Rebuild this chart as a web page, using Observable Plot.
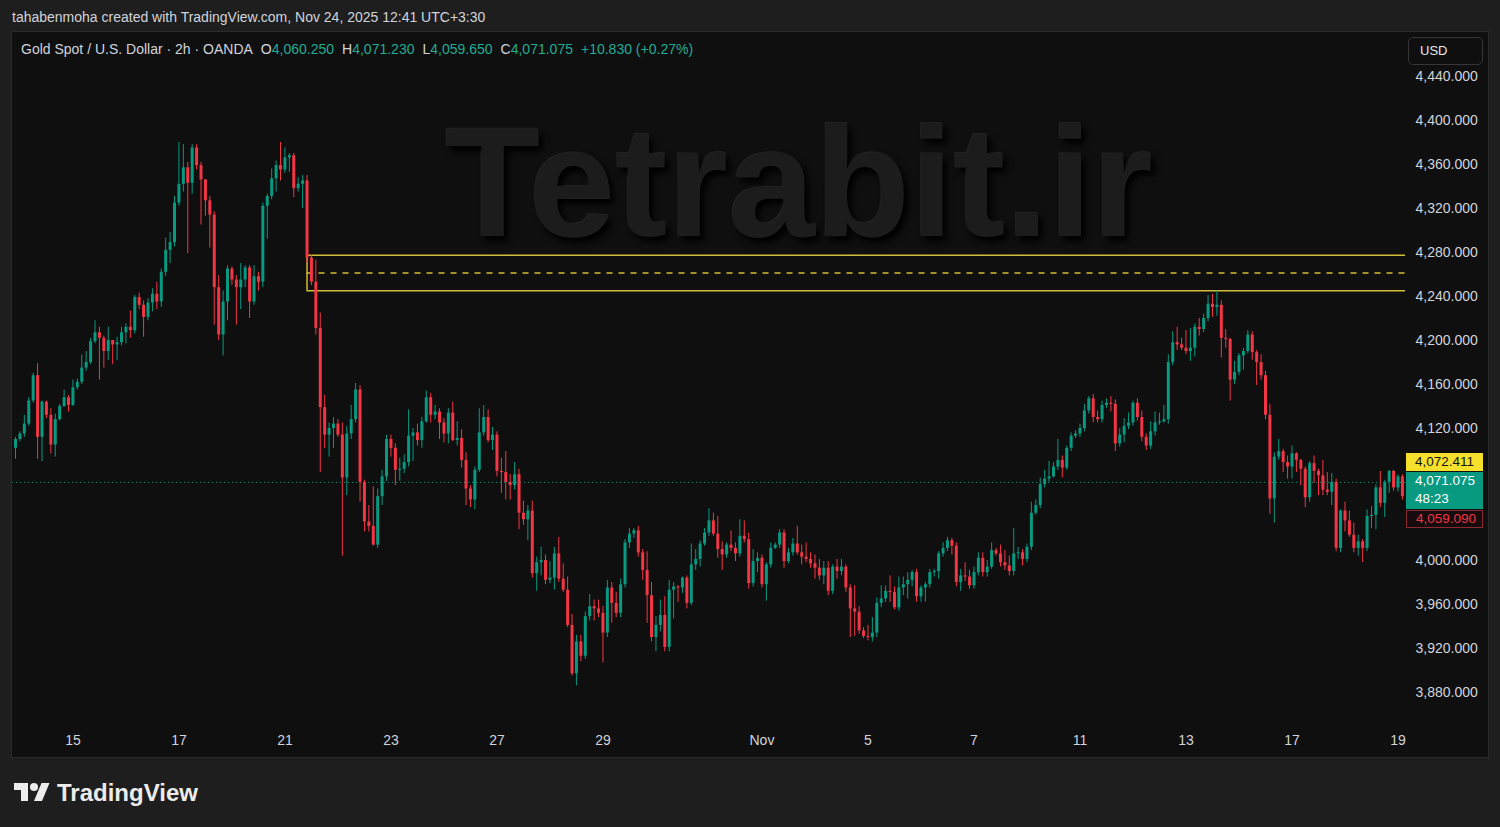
<!DOCTYPE html>
<html>
<head>
<meta charset="utf-8">
<script src="https://cdn.jsdelivr.net/npm/d3@7"></script>
<script src="https://cdn.jsdelivr.net/npm/@observablehq/plot@0.6"></script>
<style>
html,body{margin:0;padding:0;background:#1e1e1e;width:1500px;height:827px;overflow:hidden;font-family:"Liberation Sans",Arial,sans-serif;}
#top{position:absolute;left:12px;top:9px;font-size:14px;line-height:17px;color:#d1d4dc;white-space:nowrap;}
#panel{position:absolute;left:12px;top:32px;width:1476px;height:725px;background:#0f0f0f;box-shadow:0 0 0 1px #2a2a2a;}
#wm{position:absolute;left:445px;top:104px;font-size:156px;line-height:156px;font-weight:bold;color:#1c1c1c;white-space:nowrap;text-shadow:4px 5px 6px #000, -1px -1px 1px #262626;}
#chart{position:absolute;left:12px;top:32px;}
#legend{position:absolute;left:21px;top:41px;font-size:14px;line-height:16px;color:#d1d4dc;white-space:nowrap;}
#legend .v{color:#22ab94;}
#legend .g{margin-left:8px;}
#usd{position:absolute;left:1408px;top:37px;width:73px;height:26px;border:1px solid #363636;border-radius:5px;color:#e8e8e8;font-size:13px;line-height:26px;box-sizing:content-box;}
#usd span{margin-left:11px;}
.plab{position:absolute;left:1406px;width:77px;font-size:13.5px;line-height:18px;box-sizing:border-box;padding-left:9px;}
#logo{position:absolute;left:14px;top:779px;height:28px;}
#logo svg{position:absolute;left:0;top:0;}
#logo div{position:absolute;left:43px;top:1px;font-size:24px;line-height:26px;font-weight:bold;color:#ececec;white-space:nowrap;}
</style>
</head>
<body>
<div id="top">tahabenmoha created with TradingView.com, Nov 24, 2025 12:41 UTC+3:30</div>
<div id="panel"></div>
<div id="wm">Tetrabit.ir</div>
<div id="chart"></div>
<div id="legend"></div>
<div id="usd"><span>USD</span></div>
<div id="labels"></div>
<div id="logo">
  <svg width="36" height="28" viewBox="0 0 36 28"><path fill="#ececec" d="M14 22H7V11H0V4h14v18zM28 22h-8l7.5-18h8L28 22z"/><circle fill="#ececec" cx="20" cy="8" r="4"/></svg>
  <div>TradingView</div>
</div>
<script>
// ---------- data (2h candles) ----------
const firstOpen = 4102;
const closes = [
4110,4115,4124,4145,4168,4112,4144,4132,4105,4128,
4140,4148,4141,4157,4162,4175,4180,4199,4207,4202,
4190,4200,4196,4198,4207,4212,4209,4239,4232,4221,
4234,4242,4235,4262,4282,4289,4325,4342,4357,4343,
4375,4359,4346,4327,4314,4248,4205,4235,4265,4255,
4248,4255,4266,4235,4258,4253,4322,4331,4347,4359,
4355,4366,4368,4338,4342,4345,4275,4253,4211,4139,
4114,4120,4124,4114,4075,4115,4128,4155,4071,4035,
4031,4014,4058,4076,4110,4102,4082,4083,4089,4113,
4116,4109,4126,4148,4132,4135,4125,4115,4134,4109,
4111,4091,4065,4055,4082,4116,4130,4109,4114,4081,
4080,4071,4068,4078,4043,4037,4045,3988,3998,4000,
3982,3984,4006,3983,3973,3941,3897,3926,3913,3949,
3958,3956,3952,3934,3975,3961,3952,3978,4016,4024,
4027,4007,3991,3968,3930,3941,3950,3921,3973,3976,
3975,3984,3961,3996,4001,4015,4025,4036,4024,4010,
4005,4014,4011,4006,4022,4019,3979,3999,4002,3978,
3996,4011,4014,4025,3999,4007,4015,4007,4003,4001,
3997,3993,3986,3993,3972,3994,3990,3994,3975,3956,
3953,3936,3931,3930,3934,3961,3965,3972,3971,3957,
3975,3978,3982,3989,3967,3975,3978,3989,3990,4006,
4011,4018,4013,3980,3986,3985,3977,3989,4002,3989,
3994,4009,4006,3998,3995,3990,4006,4007,4001,4012,
4043,4050,4069,4074,4076,4085,4091,4084,4102,4113,
4115,4120,4136,4147,4130,4128,4141,4143,4142,4106,
4114,4122,4125,4143,4130,4112,4104,4117,4125,4126,
4128,4180,4198,4196,4193,4190,4193,4212,4210,4220,
4233,4230,4232,4202,4201,4164,4171,4186,4190,4205,
4189,4180,4168,4132,4056,4094,4099,4089,4085,4097,
4091,4083,4057,4088,4081,4077,4064,4062,4071,4011,
4045,4036,4023,4011,4017,4011,4040,4041,4066,4052,
4071,4081,4066,4076,4058];
const highs = [
4112,4117,4132,4148,4170,4179,4145,4145,4138,4133,
4142,4155,4150,4164,4165,4187,4190,4202,4218,4212,
4204,4212,4200,4203,4212,4215,4227,4241,4243,4236,
4238,4247,4253,4265,4293,4298,4331,4380,4378,4362,
4378,4378,4362,4346,4331,4317,4259,4245,4268,4267,
4259,4270,4268,4268,4268,4262,4325,4333,4356,4363,
4380,4375,4370,4370,4348,4350,4350,4277,4273,4225,
4150,4125,4130,4128,4125,4122,4141,4161,4159,4073,
4050,4067,4065,4082,4114,4114,4106,4093,4096,4137,
4120,4124,4130,4154,4152,4141,4138,4129,4138,4144,
4126,4119,4098,4068,4085,4138,4141,4137,4121,4117,
4093,4099,4078,4089,4083,4054,4050,4054,4003,4012,
4005,3999,4012,4021,3997,3985,3951,3932,3932,3953,
3969,3964,3964,3958,3982,3980,3971,3983,4019,4029,
4029,4031,4010,4008,3980,3949,3964,3967,3982,3980,
3977,3985,3986,4015,4010,4018,4029,4047,4043,4040,
4017,4016,4027,4016,4037,4036,4025,4010,4007,4005,
3998,4016,4016,4028,4028,4011,4020,4031,4014,4016,
4007,4005,4001,3999,3999,3996,4001,4001,3996,3978,
3977,3958,3939,3941,3948,3966,3977,3977,3986,3976,
3985,3985,3989,3991,3992,3977,3980,3992,3992,4008,
4016,4021,4020,4016,3992,3998,3991,3994,4007,4007,
4000,4016,4011,4014,4009,4004,4029,4012,4010,4015,
4053,4055,4075,4082,4090,4089,4110,4095,4104,4116,
4118,4124,4142,4149,4151,4136,4145,4147,4149,4146,
4120,4129,4134,4145,4147,4136,4115,4126,4135,4134,
4141,4187,4208,4212,4202,4209,4211,4215,4220,4224,
4241,4242,4245,4236,4210,4202,4181,4188,4193,4209,
4208,4191,4187,4172,4142,4098,4110,4101,4095,4104,
4098,4092,4085,4090,4095,4083,4091,4080,4079,4074,
4046,4053,4045,4034,4023,4019,4046,4049,4069,4081,
4073,4082,4082,4078,4078];
const lows = [
4092,4108,4112,4122,4143,4092,4090,4129,4097,4094,
4127,4139,4135,4140,4155,4160,4172,4178,4197,4164,
4175,4182,4178,4182,4195,4197,4202,4206,4228,4203,
4218,4226,4228,4230,4258,4270,4285,4322,4335,4279,
4333,4355,4305,4313,4284,4214,4200,4186,4218,4250,
4214,4228,4248,4220,4232,4245,4248,4292,4328,4335,
4345,4352,4353,4330,4335,4320,4270,4250,4205,4080,
4102,4094,4102,4112,4004,4059,4110,4125,4053,4026,
4026,4013,4011,4050,4072,4094,4068,4072,4079,4085,
4090,4104,4102,4125,4125,4128,4110,4107,4106,4108,
4104,4084,4050,4048,4046,4080,4113,4107,4100,4076,
4061,4055,4055,4064,4028,4032,4018,3984,3972,3986,
3978,3979,3973,3980,3971,3939,3895,3886,3908,3910,
3945,3945,3948,3907,3930,3943,3948,3948,3975,4011,
4020,4003,3982,3943,3926,3917,3935,3917,3917,3947,
3962,3970,3956,3959,3991,3994,4013,4022,4022,4002,
3991,4002,4008,3999,4003,4016,3974,3976,3989,3975,
3963,3993,4010,4011,3993,3997,4004,4005,3996,3998,
3993,3983,3982,3978,3968,3969,3983,3986,3971,3930,
3931,3933,3929,3927,3926,3930,3957,3962,3962,3955,
3954,3968,3965,3976,3962,3962,3962,3975,3985,3983,
4003,4008,4005,3976,3972,3981,3974,3974,3986,3985,
3985,3992,4004,3994,3991,3986,3986,4001,3995,3998,
4009,4041,4047,4066,4071,4075,4082,4075,4082,4099,
4111,4112,4117,4133,4125,4125,4125,4138,4135,4099,
4103,4107,4119,4122,4127,4108,4100,4101,4113,4123,
4125,4124,4177,4191,4191,4187,4181,4185,4204,4207,
4217,4221,4222,4184,4193,4145,4160,4168,4173,4188,
4182,4159,4164,4128,4042,4034,4091,4080,4074,4074,
4080,4068,4048,4053,4070,4059,4059,4059,4050,4008,
4007,4026,4021,4007,4004,3998,4008,4029,4028,4048,
4039,4061,4063,4062,4055];

const dayTickBars   = [13, 37, 61, 85, 109, 133, 169, 193, 217, 241, 265, 289, 313];
const dayTickLabels = ["15","17","21","23","27","29","Nov","5","7","11","13","17","19"];
// 4,080 and 4,040 are hidden behind the price labels in the reference
const priceTicks = [3880,3920,3960,4000,4120,4160,4200,4240,4280,4320,4360,4400,4440];

const zoneStartBar = 66;
const zoneTop = 4277.5, zoneMid = 4261.3, zoneBottom = 4245.3;
const lastPrice = 4071.075;
const yellowPrice = 4072.411;
const redPrice = 4059.090;
const countdown = "48:23";

const legendParts = [
  {t: "Gold Spot / U.S. Dollar · 2h · OANDA"},
  {k: "O", v: "4,060.250"}, {k: "H", v: "4,071.230"}, {k: "L", v: "4,059.650"}, {k: "C", v: "4,071.075"},
  {k: "", v: "+10.830 (+0.27%)"}
];

// ---------- build ----------
const GREEN = "#089981", RED = "#f23645", YEL = "#d2bd36";
const candles = closes.map((c, i) => ({i, o: i ? closes[i - 1] : firstOpen, c, h: highs[i], l: lows[i]}));
const up = candles.filter(d => d.c >= d.o), down = candles.filter(d => d.c < d.o);
const xDomain = [-0.68, 314.7];
const labelOf = new Map(dayTickBars.map((b, k) => [b, dayTickLabels[k]]));

const chart = Plot.plot({
  width: 1476, height: 725,
  marginLeft: 0, marginRight: 83, marginTop: 0, marginBottom: 32,
  style: {background: "transparent", color: "#d1d4dc", fontSize: "14px", fontFamily: "'Liberation Sans', Arial, sans-serif"},
  x: {type: "linear", domain: xDomain, axis: null, label: null},
  y: {domain: [3850, 4480], axis: null, label: null},
  marks: [
    Plot.axisY(priceTicks, {anchor: "right", tickSize: 0, tickPadding: 10, tickFormat: d3.format(",.3f"), label: null}),
    Plot.axisX(dayTickBars, {anchor: "bottom", tickSize: 0, tickPadding: 10, tickFormat: d => labelOf.get(d), label: null}),
    // zone
    Plot.ruleY([zoneTop, zoneBottom], {x1: zoneStartBar, x2: xDomain[1], stroke: YEL, strokeWidth: 1.5}),
    Plot.ruleY([zoneMid], {x1: zoneStartBar, x2: xDomain[1], stroke: YEL, strokeWidth: 1.5, strokeDasharray: "6,6"}),
    Plot.ruleX([zoneStartBar], {y1: zoneBottom, y2: zoneTop, stroke: YEL, strokeWidth: 1.5}),
    // last price line
    Plot.ruleY([lastPrice], {stroke: GREEN, strokeWidth: 1, strokeDasharray: "1,3"}),
    // wicks
    Plot.ruleX(up,   {x: "i", y1: "l", y2: "h", stroke: GREEN, strokeWidth: 1}),
    Plot.ruleX(down, {x: "i", y1: "l", y2: "h", stroke: RED, strokeWidth: 1}),
    // bodies
    Plot.ruleX(up,   {x: "i", y1: "o", y2: "c", stroke: GREEN, strokeWidth: 3}),
    Plot.ruleX(down, {x: "i", y1: "o", y2: "c", stroke: RED, strokeWidth: 3})
  ]
});
document.getElementById("chart").appendChild(chart);

// legend header
const lg = document.getElementById("legend");
legendParts.forEach(p => {
  const s = document.createElement("span");
  if (p.t) { s.textContent = p.t; }
  else { s.className = "g"; s.innerHTML = (p.k ? p.k : "") + '<span class="v">' + p.v + '</span>'; }
  lg.appendChild(s);
});

// price labels on the axis, placed with the y scale
const ys = chart.scale("y");
const cy = 32 + ys.apply(lastPrice);
const box = document.getElementById("labels");
function lab(top, h, bg, color, border, html) {
  const d = document.createElement("div");
  d.className = "plab";
  d.style.top = top + "px"; d.style.height = h + "px";
  d.style.background = bg; d.style.color = color;
  if (border) d.style.border = "1px solid " + border;
  d.innerHTML = html;
  box.appendChild(d);
}
const fmt = d3.format(",.3f");
const gTop = cy - 10;
lab(gTop - 19, 18, "#f5e02c", "#131313", null, fmt(yellowPrice));
lab(gTop, 37, GREEN, "#ffffff", null, fmt(lastPrice) + "<br>" + countdown);
lab(gTop + 38, 18, "#170c0d", RED, "#8a2a33", '<span style="position:relative;top:-1px">' + fmt(redPrice) + '</span>');
</script>
</body>
</html>
